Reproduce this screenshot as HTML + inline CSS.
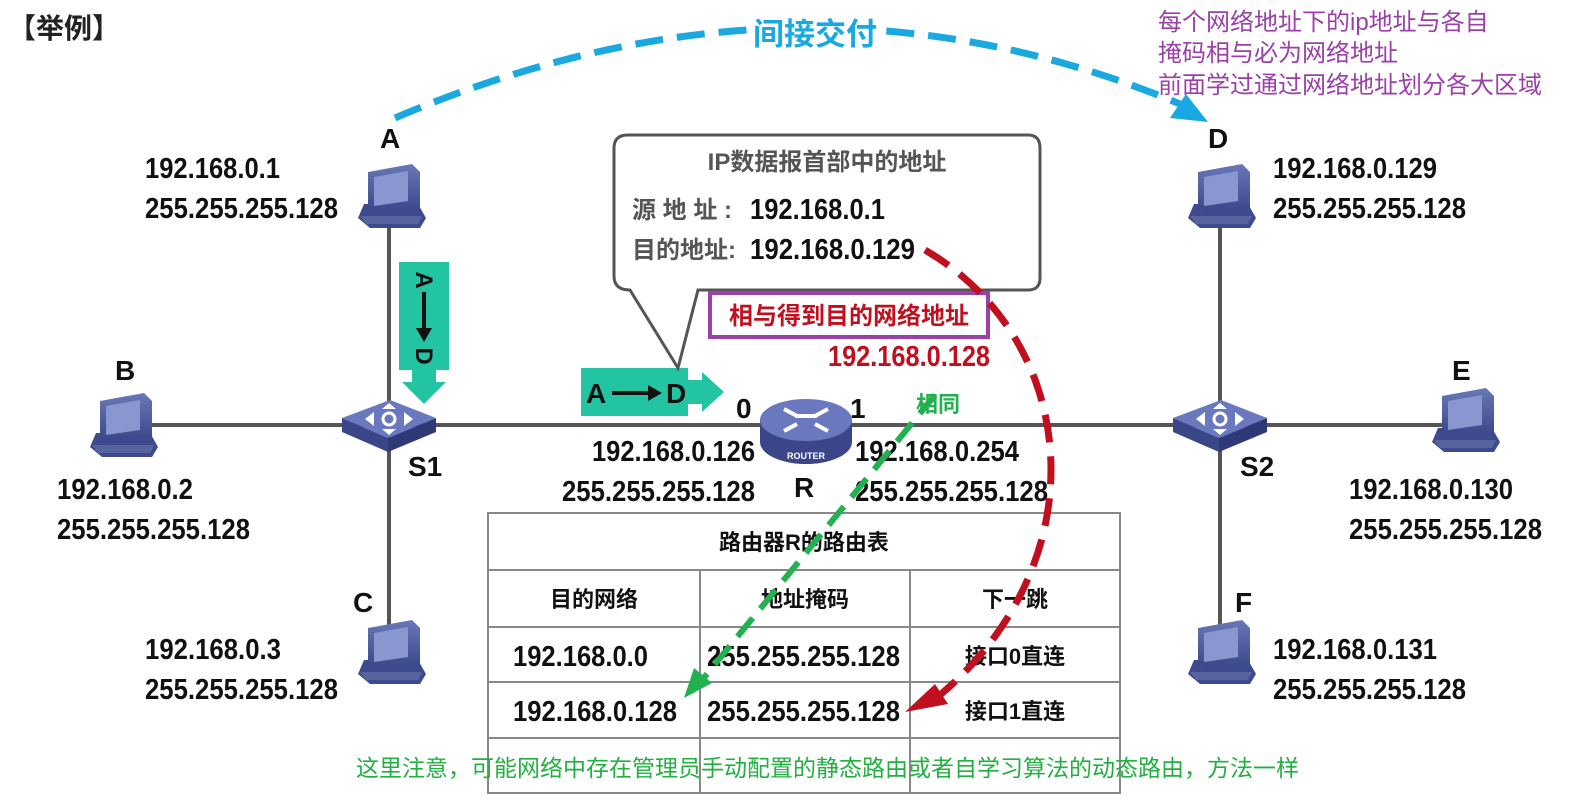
<!DOCTYPE html>
<html><head><meta charset="utf-8"><style>
html,body{margin:0;padding:0;background:#fff;}
svg{display:block;}
text{font-family:"Liberation Sans","Noto Sans CJK SC",sans-serif;}
.b{font-weight:bold;font-size:29px;fill:#111;}
.L{font-weight:bold;font-size:28px;fill:#111;}
</style></head><body>
<svg width="1585" height="810" viewBox="0 0 1585 810" xmlns="http://www.w3.org/2000/svg">
<defs>
<linearGradient id="pg" x1="0" y1="0" x2="0" y2="1"><stop offset="0" stop-color="#6a78b8"/><stop offset="1" stop-color="#3a4688"/></linearGradient>
<g id="pc">
<polygon points="6,40 60,40 68,54 62,64 12,64 0,54" fill="#3e4a8e"/>
<polygon points="2,52 64,52 60,60 8,60" fill="#56639f"/>
<polygon points="10,8 54,0 62,8 62,44 18,48 10,40" fill="url(#pg)"/>
<polygon points="16,13 50,7 50,37 16,42" fill="#8a96d0"/>
</g>
<g id="sw">
<polygon points="0,-10 48,-28 94,-10 46,10" fill="#6a78bf"/>
<polygon points="0,-10 46,10 46,24 0,4" fill="#3a4688"/>
<polygon points="46,10 94,-10 94,4 46,24" fill="#2e3a78"/>
<g fill="#fff" transform="translate(47,-9)"><circle r="6" fill="none" stroke="#fff" stroke-width="3"/><path d="M-24,0 l9,-7 v14z M24,0 l-9,-7 v14z M0,-16 l-7,6 h14z M0,16 l-7,-6 h14z"/></g>
</g>
</defs>

<text x="8" y="38" font-size="28" font-weight="bold" fill="#222">【举例】</text>
<text font-size="24" fill="#9b40a8"><tspan x="1158" y="30">每个网络地址下的ip地址与各自</tspan><tspan x="1158" y="61">掩码相与必为网络地址</tspan><tspan x="1158" y="93">前面学过通过网络地址划分各大区域</tspan></text>

<g stroke="#555" stroke-width="4" fill="none">
<line x1="120" y1="425" x2="1470" y2="425"/>
<line x1="389" y1="200" x2="389" y2="640"/>
<line x1="1220" y1="200" x2="1220" y2="640"/>
</g>

<!-- blue arc -->
<path d="M395,118 Q800,-55 1180,104" fill="none" stroke="#1aa8e0" stroke-width="7" stroke-dasharray="28,14"/>
<polygon points="1208,122 1170,118 1186,94" fill="#1aa8e0"/>
<rect x="748" y="16" width="134" height="38" fill="#fff"/>
<text x="815" y="45" text-anchor="middle" font-size="31" font-weight="bold" fill="#1aa8e0">间接交付</text>

<use href="#pc" x="358" y="164"/>
<use href="#pc" x="90" y="393"/>
<use href="#pc" x="358" y="620"/>
<use href="#pc" x="1188" y="164"/>
<use href="#pc" x="1432" y="388"/>
<use href="#pc" x="1188" y="620"/>

<use href="#sw" x="342" y="428"/>
<use href="#sw" x="1173" y="428"/>
<text x="350" y="448" font-size="9" fill="#fff" font-weight="bold" transform="rotate(25 350 448)">SWITCH</text>
<text x="1181" y="448" font-size="9" fill="#fff" font-weight="bold" transform="rotate(25 1181 448)">SWITCH</text>

<ellipse cx="806" cy="442" rx="46" ry="22" fill="#3a4688"/>
<rect x="760" y="420" width="92" height="22" fill="#3a4688"/>
<ellipse cx="806" cy="420" rx="46" ry="21" fill="#6a78bf"/>
<path d="M784,409 l13,7 M828,409 l-13,7 M784,431 l13,-7 M828,431 l-13,-7 M795,416 h22" stroke="#fff" stroke-width="4" fill="none"/>
<text x="806" y="459" text-anchor="middle" font-size="9" font-weight="bold" fill="#fff">ROUTER</text>

<text class="L" x="380" y="148">A</text>
<text class="L" x="115" y="380">B</text>
<text class="L" x="353" y="612">C</text>
<text class="L" x="1208" y="148">D</text>
<text class="L" x="1452" y="380">E</text>
<text class="L" x="1235" y="612">F</text>
<text class="L" x="408" y="476">S1</text>
<text class="L" x="1240" y="476">S2</text>
<text class="L" x="794" y="497">R</text>
<text class="L" x="736" y="418">0</text>
<text class="L" x="850" y="418">1</text>

<g>
<text class="b" x="145" y="178" textLength="135" lengthAdjust="spacingAndGlyphs">192.168.0.1</text><text class="b" x="145" y="218" textLength="193" lengthAdjust="spacingAndGlyphs">255.255.255.128</text>
<text class="b" x="57" y="499" textLength="136" lengthAdjust="spacingAndGlyphs">192.168.0.2</text><text class="b" x="57" y="539" textLength="193" lengthAdjust="spacingAndGlyphs">255.255.255.128</text>
<text class="b" x="145" y="659" textLength="136" lengthAdjust="spacingAndGlyphs">192.168.0.3</text><text class="b" x="145" y="699" textLength="193" lengthAdjust="spacingAndGlyphs">255.255.255.128</text>
<text class="b" x="1273" y="178" textLength="164" lengthAdjust="spacingAndGlyphs">192.168.0.129</text><text class="b" x="1273" y="218" textLength="193" lengthAdjust="spacingAndGlyphs">255.255.255.128</text>
<text class="b" x="1349" y="499" textLength="164" lengthAdjust="spacingAndGlyphs">192.168.0.130</text><text class="b" x="1349" y="539" textLength="193" lengthAdjust="spacingAndGlyphs">255.255.255.128</text>
<text class="b" x="1273" y="659" textLength="164" lengthAdjust="spacingAndGlyphs">192.168.0.131</text><text class="b" x="1273" y="699" textLength="193" lengthAdjust="spacingAndGlyphs">255.255.255.128</text>
<text class="b" x="592" y="461" textLength="163" lengthAdjust="spacingAndGlyphs">192.168.0.126</text><text class="b" x="562" y="501" textLength="193" lengthAdjust="spacingAndGlyphs">255.255.255.128</text>
<text class="b" x="855" y="461" textLength="164" lengthAdjust="spacingAndGlyphs">192.168.0.254</text><text class="b" x="855" y="501" textLength="193" lengthAdjust="spacingAndGlyphs">255.255.255.128</text>
</g>

<rect x="399" y="262" width="50" height="108" fill="#22c4a2"/>
<polygon points="412,370 436,370 436,382 446,382 424,404 402,382 412,382" fill="#22c4a2"/>
<text x="424" y="280" font-size="24" font-weight="bold" fill="#111" text-anchor="middle" transform="rotate(90 424 280)" dy="8">A</text>
<line x1="424" y1="292" x2="424" y2="332" stroke="#111" stroke-width="4"/>
<polygon points="416,328 432,328 424,342" fill="#111"/>
<text x="424" y="356" font-size="24" font-weight="bold" fill="#111" text-anchor="middle" transform="rotate(90 424 356)" dy="8">D</text>
<rect x="581" y="368" width="107" height="48" fill="#22c4a2"/>
<polygon points="688,380 702,380 702,372 724,392 702,412 702,404 688,404" fill="#22c4a2"/>
<text x="586" y="403" font-size="28" font-weight="bold" fill="#111">A</text>
<line x1="612" y1="393" x2="652" y2="393" stroke="#111" stroke-width="4"/>
<polygon points="648,385 662,393 648,401" fill="#111"/>
<text x="666" y="403" font-size="28" font-weight="bold" fill="#111">D</text>

<path d="M628,135 H1028 Q1040,135 1040,148 V278 Q1040,290 1028,290 H698 L678,368 L630,290 Q614,290 614,276 V148 Q614,135 628,135Z" fill="#fff" stroke="#555" stroke-width="3"/>
<text x="827" y="170" text-anchor="middle" font-size="24" font-weight="bold" fill="#555">IP数据报首部中的地址</text>
<text x="632" y="218" font-size="24" font-weight="bold" fill="#555">源 地 址 :</text>
<text class="b" x="750" y="219" textLength="135" lengthAdjust="spacingAndGlyphs">192.168.0.1</text>
<text x="632" y="258" font-size="24" font-weight="bold" fill="#555">目的地址:</text>
<text class="b" x="750" y="259" textLength="165" lengthAdjust="spacingAndGlyphs">192.168.0.129</text>

<rect x="710" y="293" width="278" height="44" fill="#fff" stroke="#9b40a8" stroke-width="4"/>
<text x="849" y="324" text-anchor="middle" font-size="24" font-weight="bold" fill="#c01020">相与得到目的网络地址</text>
<text x="828" y="366" font-size="29" font-weight="bold" fill="#c01020" textLength="162" lengthAdjust="spacingAndGlyphs">192.168.0.128</text>
<text x="916" y="412" font-size="22" font-weight="bold" fill="#22b050">相同</text>

<g stroke="#888" stroke-width="2" fill="none">
<rect x="488" y="513" width="632" height="280"/>
<line x1="488" y1="570" x2="1120" y2="570"/>
<line x1="488" y1="627" x2="1120" y2="627"/>
<line x1="488" y1="682" x2="1120" y2="682"/>
<line x1="488" y1="738" x2="1120" y2="738"/>
<line x1="700" y1="570" x2="700" y2="793"/>
<line x1="910" y1="570" x2="910" y2="793"/>
</g>
<g font-weight="bold" fill="#111">
<text x="804" y="550" font-size="22" text-anchor="middle">路由器R的路由表</text>
<text x="594" y="607" font-size="22" text-anchor="middle">目的网络</text>
<text x="805" y="607" font-size="22" text-anchor="middle">地址掩码</text>
<text x="1015" y="607" font-size="22" text-anchor="middle">下一跳</text>
<text x="513" y="666" font-size="29" textLength="135" lengthAdjust="spacingAndGlyphs">192.168.0.0</text>
<text x="707" y="666" font-size="29" textLength="193" lengthAdjust="spacingAndGlyphs">255.255.255.128</text>
<text x="1015" y="664" font-size="22" text-anchor="middle">接口0直连</text>
<text x="513" y="721" font-size="29" textLength="164" lengthAdjust="spacingAndGlyphs">192.168.0.128</text>
<text x="707" y="721" font-size="29" textLength="193" lengthAdjust="spacingAndGlyphs">255.255.255.128</text>
<text x="1015" y="719" font-size="22" text-anchor="middle">接口1直连</text>
</g>

<path d="M925,250 C1080,340 1100,560 940,695" fill="none" stroke="#c01020" stroke-width="7" stroke-dasharray="28,14"/>
<polygon points="905,712 935,684 948,704" fill="#c01020"/>
<line x1="935" y1="395" x2="702" y2="680" stroke="#22b050" stroke-width="6" stroke-dasharray="24,12"/>
<polygon points="684,698 694,668 712,683" fill="#22b050"/>

<text x="356" y="776" font-size="23" fill="#22b040">这里注意，可能网络中存在管理员手动配置的静态路由或者自学习算法的动态路由，方法一样</text>
</svg>
</body></html>
